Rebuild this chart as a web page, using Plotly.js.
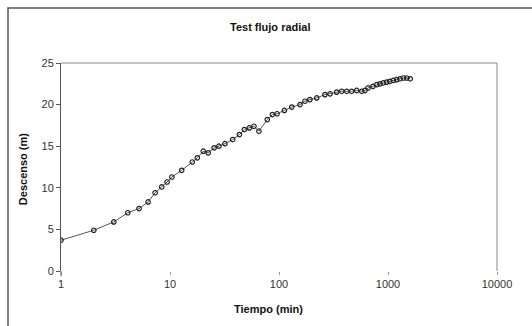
<!DOCTYPE html>
<html>
<head>
<meta charset="utf-8">
<script src="https://cdn.plot.ly/plotly-3.0.1.min.js"></script>
<style>html,body{margin:0;padding:0;background:#fff;}#chart{width:532px;height:326px;}</style>
</head>
<body>
<div id="chart"></div>
<script>
// Time (min) and drawdown (m)
var tiempo = [1, 2, 3.05, 4.1, 5.2, 6.3, 7.3, 8.4, 9.4, 10.4, 12.8, 16, 17.8, 20.2, 22.4, 25.4, 28.1, 31.9, 37.6, 43.3, 48.1, 53.4, 58.9, 65.4, 78, 87, 96, 112, 131, 156, 173, 192, 222, 264, 294, 338, 376, 418, 464, 516, 574, 615, 656, 728, 790, 845, 905, 973, 1040, 1120, 1200, 1288, 1390, 1486, 1600];
var descenso = [3.7, 4.9, 5.9, 7.0, 7.5, 8.3, 9.4, 10.1, 10.7, 11.3, 12.1, 13.1, 13.6, 14.4, 14.2, 14.8, 15.0, 15.3, 15.8, 16.4, 17.0, 17.2, 17.4, 16.8, 18.2, 18.8, 18.9, 19.3, 19.7, 20.0, 20.4, 20.6, 20.8, 21.2, 21.3, 21.5, 21.6, 21.6, 21.6, 21.7, 21.6, 21.7, 22.0, 22.2, 22.4, 22.5, 22.6, 22.7, 22.8, 22.9, 23.0, 23.1, 23.2, 23.2, 23.1];
var xTicks = [1, 10, 100, 1000, 10000];
var xTickText = ['1', '10', '100', '1000', '10000'];
var yTicks = [0, 5, 10, 15, 20, 25];

var FONT = 'Liberation Sans Narrow, Arial Narrow, Liberation Sans, Arial, sans-serif';
var trace = {
  x: tiempo, y: descenso, type: 'scatter', mode: 'lines+markers',
  line: {color: '#555', width: 1},
  marker: {symbol: 'circle-open', size: 4.5, color: '#222', line: {width: 1.2, color: '#222'}},
  hoverinfo: 'x+y'
};
var L = 61, R = 497, T = 63, B = 270.7, W = 532, H = 326;
var pw = R - L, ph = B - T;
function px(x) { return (x - L) / pw; }
function py(y) { return (B - y) / ph; }
var layout = {
  width: W, height: H,
  margin: {l: L, r: W - R, t: T, b: H - B, pad: 0},
  paper_bgcolor: '#fff', plot_bgcolor: '#fff',
  showlegend: false,
  font: {family: FONT, size: 11, color: '#333'},
  xaxis: {
    type: 'log', range: [0, 4], tickvals: xTicks, ticktext: xTickText,
    showgrid: false, zeroline: false, showline: false,
    ticks: 'outside', ticklen: 3, tickcolor: '#999', tickwidth: 1,
    tickfont: {family: FONT, size: 11, color: '#333'}
  },
  yaxis: {
    range: [0, 25], tickvals: yTicks,
    showgrid: false, zeroline: false, showline: true, linecolor: '#555', linewidth: 1,
    ticks: 'outside', ticklen: 4, tickcolor: '#555',
    tickfont: {family: FONT, size: 11, color: '#333'}
  },
  shapes: [
    {type: 'rect', xref: 'paper', yref: 'paper', x0: px(8), x1: px(545), y0: py(345), y1: py(8), line: {color: '#555', width: 1.5}},
    {type: 'line', xref: 'paper', yref: 'paper', x0: 0, x1: 1, y0: 1, y1: 1, line: {color: '#888', width: 1}},
    {type: 'line', xref: 'paper', yref: 'paper', x0: 1, x1: 1, y0: 0, y1: 1, line: {color: '#888', width: 1}},
    {type: 'line', xref: 'paper', yref: 'paper', x0: 0, x1: 0, y0: 0, y1: py(276), line: {color: '#555', width: 1}}
  ],
  annotations: [
    {text: '<b>Test flujo radial</b>', xref: 'paper', yref: 'paper', x: px(270), y: py(27), xanchor: 'center', yanchor: 'middle', showarrow: false, font: {family: FONT, size: 11, color: '#111'}},
    {text: '<b>Tiempo (min)</b>', xref: 'paper', yref: 'paper', x: px(268), y: py(309), xanchor: 'center', yanchor: 'middle', showarrow: false, font: {family: FONT, size: 11, color: '#111'}},
    {text: '<b>Descenso (m)</b>', xref: 'paper', yref: 'paper', x: px(23), y: py(169), xanchor: 'center', yanchor: 'middle', textangle: -90, showarrow: false, font: {family: FONT, size: 11, color: '#111'}}
  ]
};
Plotly.newPlot('chart', [trace], layout, {displayModeBar: false, staticPlot: true});
</script>
</body>
</html>
